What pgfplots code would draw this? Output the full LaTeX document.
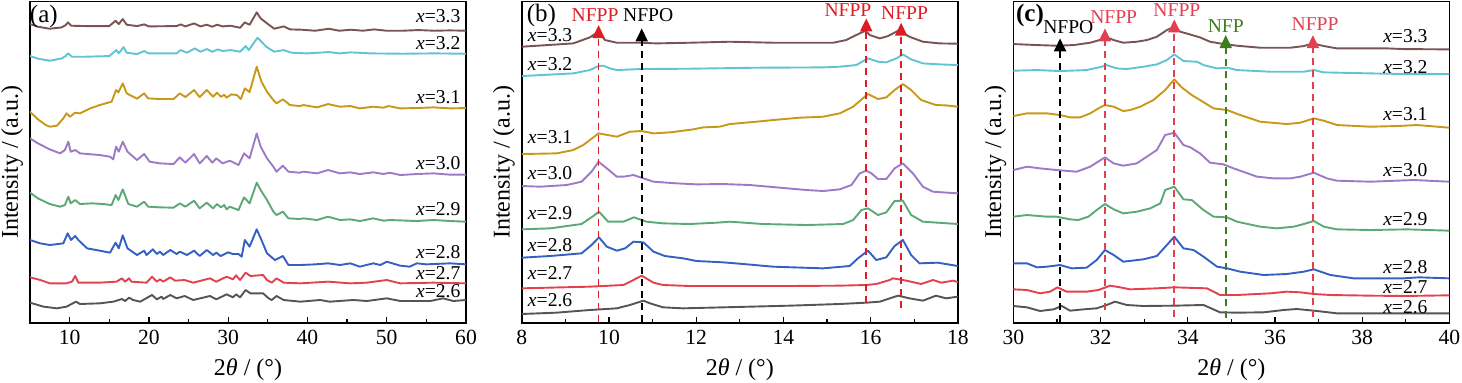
\documentclass[border=0pt]{standalone}
\usepackage{pgfplots}
\pgfplotsset{compat=1.18}
\usepackage{fontspec}
\setmainfont{Liberation Serif}
\usetikzlibrary{arrows.meta}
\definecolor{c26}{RGB}{85,85,85}
\definecolor{c27}{RGB}{228,64,78}
\definecolor{c28}{RGB}{52,96,196}
\definecolor{c29}{RGB}{92,168,118}
\definecolor{c30}{RGB}{156,122,200}
\definecolor{c31}{RGB}{200,152,24}
\definecolor{c32}{RGB}{96,196,210}
\definecolor{c33}{RGB}{122,84,84}
\definecolor{nfppb}{RGB}{222,28,36}
\definecolor{nfppc}{RGB}{226,64,80}
\definecolor{nfp}{RGB}{60,125,30}
\pgfplotsset{
  xrd/.style={
    scale only axis, width=218pt, height=160.8pt,
    anchor=south west,
    y dir=reverse, ymin=4, ymax=969,
    ytick=\empty,
    xtick pos=left,
    tick align=inside,
    minor x tick num=1,
    major tick length=3pt, minor tick length=1.8pt,
    axis line style={line width=0.8pt},
    every tick/.style={black, line width=0.6pt},
    tick label style={font=\fontsize{10.8}{12}\selectfont},
    label style={font=\fontsize{12}{14}\selectfont},
    xlabel={2\textit{θ} / (°)},
    ylabel={Intensity / (a.u.)},
    ylabel style={at={(axis description cs:0,0.5)}, anchor=south, rotate=0},
    /pgf/number format/assume math mode=true,
    every axis plot/.append style={line width=0.95pt, no marks, line join=round},
  },
}
\tikzset{
  cl/.style={font=\fontsize{9.8}{11}\selectfont, inner sep=0.5pt},
  an/.style={font=\fontsize{9.8}{11}\selectfont, inner sep=0pt},
  pl/.style={font=\fontsize{12.5}{14}\selectfont, inner sep=0pt},
  ar/.style={line width=0.95pt, dash pattern=on 3.5pt off 2.5pt, -{Triangle[length=6.5pt,width=6pt]}},
}
\begin{document}
\begin{tikzpicture}
%================ (a)
\begin{axis}[xrd, at={(15pt,30pt)}, xmin=5, xmax=60, xtick={10,20,...,60}]
\addplot[c33] coordinates {(5,72)(6,80)(7.5,86)(9.0,82)(9.5,75)(9.8,67)(10.2,77)(12,78)(15.0,78)(15.8,62)(16.2,72)(16.7,57)(17.2,74)(18.5,78)(19.4,73)(20.0,79)(23.5,78)(24.0,73)(24.6,79)(25.7,70)(26.5,79)(27.3,74)(28.0,80)(28.6,74)(29.3,79)(30.3,77)(31.5,83)(32.1,67)(32.7,74)(33.6,37)(34.1,55)(34.8,68)(35.8,86)(37.0,79)(37.8,88)(39.3,89)(41,92)(42.7,86)(44,92)(45.5,89)(47,92)(48.4,88)(50,92)(52,92)(54,90)(56,92)(58,91)(60,92)};
\addplot[c32] coordinates {(5,168)(6,176)(7.5,182)(9.0,175)(9.5,168)(9.8,160)(10.3,170)(12,170)(15.0,168)(15.9,150)(16.2,160)(16.8,141)(17.2,158)(18.5,162)(19.4,153)(20,160)(23.5,160)(24,150)(24.8,158)(25.8,145)(26.5,155)(27.3,147)(28,155)(28.7,148)(29.3,153)(30.3,150)(31.5,155)(32.2,138)(32.6,150)(33.7,113)(34.2,125)(34.8,140)(35.8,155)(37,150)(38,158)(40,160)(42.7,156)(44,160)(45.5,157)(48,160)(52,161)(56,160)(60,161)};
\addplot[c31] coordinates {(5,335)(6,358)(7.0,375)(7.5,380)(8.4,377)(9.2,355)(9.6,340)(10.05,350)(10.7,338)(11.3,340)(12.6,325)(13.8,315)(15.3,305)(15.85,270)(16.15,277)(16.7,250)(17.2,280)(18.5,296)(19.4,280)(19.9,295)(21.4,297)(23.1,297)(23.9,280)(24.6,291)(25.7,270)(26.4,291)(27.3,270)(28.1,290)(28.6,278)(29.1,290)(29.5,284)(29.8,293)(30.4,283)(31.1,285)(31.6,297)(32.1,265)(32.7,276)(33.6,200)(34.2,245)(34.9,275)(35.7,300)(36.1,310)(36.9,298)(37.8,315)(39.0,318)(39.5,315)(41.2,322)(42.6,312)(44.1,320)(45.4,318)(46.6,325)(48.3,320)(49.6,323)(50.2,318)(51.7,325)(53.8,324)(55.9,322)(58,325)(60,324)};
\addplot[c30] coordinates {(5,415)(6,430)(7.5,448)(8.8,460)(9.4,450)(9.84,425)(10.13,455)(10.7,450)(11.3,460)(13.8,465)(15.1,470)(15.5,478)(15.85,440)(16.2,455)(16.7,425)(17.3,455)(18.5,480)(19.4,462)(20.1,485)(21.4,490)(23.1,492)(23.9,472)(24.6,488)(25.7,462)(26.4,490)(27.3,468)(28.0,488)(28.5,475)(29.3,490)(30.2,482)(31.3,495)(32.0,460)(32.7,475)(33.6,400)(34.1,440)(34.9,475)(35.7,500)(36.1,515)(36.9,497)(37.6,515)(39.0,518)(39.5,515)(41.2,520)(42.6,510)(44.1,520)(45.4,517)(46.6,522)(48.3,517)(49.6,522)(50.4,518)(51.7,525)(53.8,522)(55.9,520)(58,524)(60,524)};
\addplot[c29] coordinates {(5,578)(6,595)(7.5,612)(8.8,620)(9.4,615)(9.84,590)(10.13,610)(10.7,600)(11.3,612)(12.8,610)(14.2,612)(15.3,615)(15.8,585)(16.15,600)(16.7,568)(17.4,612)(18.5,620)(19.4,605)(19.9,620)(21.4,622)(23.1,623)(23.9,610)(24.6,620)(25.7,602)(26.4,625)(27.3,608)(28.1,625)(28.6,612)(29.1,622)(29.5,615)(29.8,628)(30.2,620)(31.3,630)(32.0,592)(32.7,610)(33.6,548)(34.1,570)(34.9,600)(35.7,635)(36.1,645)(36.9,635)(37.6,655)(39.0,657)(39.5,655)(41.2,660)(42.6,650)(44.1,660)(45.4,658)(46.6,663)(48.3,655)(49.6,662)(50.4,660)(53.8,663)(55.9,660)(58,663)(60,665)};
\addplot[c28] coordinates {(5,720)(6.3,730)(7.5,735)(9.2,730)(9.75,700)(10.17,720)(10.7,708)(11.1,720)(12.2,745)(13.8,752)(15.1,758)(15.8,728)(16.2,745)(16.7,706)(17.3,745)(18.5,765)(19.4,752)(19.7,765)(20.5,748)(21.0,762)(21.4,755)(21.8,765)(22.7,750)(23.5,762)(23.9,755)(24.8,765)(25.7,752)(26.4,768)(27.3,750)(28.1,765)(28.5,758)(29.05,768)(30.0,757)(30.6,762)(31.3,762)(31.7,770)(32.1,720)(32.7,740)(33.6,688)(34.2,720)(34.9,760)(35.9,780)(36.9,768)(37.6,795)(39.1,795)(41,793)(42.6,790)(44.1,795)(45.4,790)(46.6,800)(48.3,790)(49.2,795)(50.0,785)(51.7,797)(52.9,800)(53.8,790)(55.0,793)(58,790)(60,793)};
\addplot[c27] coordinates {(5,832)(6.3,840)(7.5,850)(9.6,850)(10.3,845)(10.7,828)(11.1,848)(13.8,848)(15.9,845)(16.6,835)(17.0,845)(17.5,835)(17.8,845)(19.7,848)(20.4,830)(21.0,845)(21.4,838)(21.8,845)(22.7,832)(23.3,842)(24.5,840)(25.6,848)(27.7,835)(28.5,845)(29.8,830)(30.6,838)(31.0,826)(31.5,840)(32.2,818)(32.8,828)(34.4,825)(34.9,840)(35.5,848)(36.1,835)(37.0,848)(39.1,850)(42.6,845)(45.4,850)(47.5,848)(50,840)(51.7,850)(55.9,848)(60,850)};
\addplot[c26] coordinates {(5,908)(6.7,920)(8.4,925)(9.6,920)(10.8,905)(11.3,912)(13.8,910)(15.5,905)(16.6,897)(17.0,903)(17.5,893)(18.0,900)(18.9,905)(20.4,885)(21.0,898)(21.6,890)(21.8,897)(22.7,885)(23.5,895)(24.5,888)(25.6,900)(27.7,888)(28.5,898)(29.8,883)(30.6,892)(31.0,883)(31.5,892)(32.2,870)(32.8,880)(34.4,880)(35.1,895)(35.5,900)(36.1,888)(37.0,900)(39.1,905)(41.6,900)(42.8,905)(45.8,900)(47.5,903)(50,895)(51.7,903)(55.5,903)(57.1,895)(58.4,903)(60,900)};
\node[pl] at (axis cs:6.75,50) {(a)};
\node[cl, anchor=east] at (axis cs:59.46,48) {\textit{x}=3.3};
\node[cl, anchor=east] at (axis cs:59.46,128) {\textit{x}=3.2};
\node[cl, anchor=east] at (axis cs:59.46,290) {\textit{x}=3.1};
\node[cl, anchor=east] at (axis cs:59.46,488) {\textit{x}=3.0};
\node[cl, anchor=east] at (axis cs:59.46,628) {\textit{x}=2.9};
\node[cl, anchor=east] at (axis cs:59.46,755) {\textit{x}=2.8};
\node[cl, anchor=east] at (axis cs:59.46,820) {\textit{x}=2.7};
\node[cl, anchor=east] at (axis cs:59.46,873) {\textit{x}=2.6};
\end{axis}
%================ (b)
\begin{axis}[xrd, at={(260.9pt,30pt)}, xmin=8, xmax=18, xtick={8,10,...,18}]
\addplot[c33] coordinates {(8,140)(9.18,130)(9.56,112)(9.76,95)(9.91,120)(10.18,128)(10.71,128)(11.09,130)(11.85,128)(12.77,125)(13.76,128)(15.14,128)(15.44,120)(15.67,105)(15.88,92)(15.98,105)(16.21,115)(16.40,108)(16.63,92)(16.70,95)(16.89,110)(17.2,125)(17.58,130)(18,131)};
\addplot[c32] coordinates {(8,228)(9.18,220)(9.56,210)(9.76,198)(9.87,197)(10.02,205)(10.18,210)(10.71,207)(11.85,206)(13.38,203)(14.91,202)(15.29,200)(15.67,195)(15.94,175)(16.17,185)(16.36,187)(16.59,175)(16.74,163)(16.93,178)(17.2,190)(17.58,193)(18,195)};
\addplot[c31] coordinates {(8,462)(8.8,460)(9.18,450)(9.41,435)(9.76,400)(10.18,410)(10.48,395)(10.75,393)(11.02,400)(11.4,397)(11.7,392)(11.93,388)(12.16,382)(12.54,380)(12.77,372)(13.38,365)(13.76,360)(14.37,353)(14.91,350)(15.29,340)(15.6,320)(15.82,295)(15.94,282)(16.17,297)(16.36,292)(16.55,270)(16.74,252)(16.93,270)(17.16,300)(17.5,315)(17.73,316)(18,320)};
\addplot[c30] coordinates {(8,558)(8.42,560)(9.03,555)(9.37,545)(9.6,515)(9.76,485)(9.95,505)(10.18,530)(10.33,530)(10.56,525)(10.79,535)(11.02,545)(11.55,550)(12.01,553)(12.62,552)(13.23,555)(13.92,563)(14.53,570)(14.91,573)(15.29,568)(15.56,555)(15.75,520)(15.9,512)(16.02,520)(16.17,537)(16.36,537)(16.55,505)(16.74,490)(16.97,520)(17.2,560)(17.43,575)(18,580)};
\addplot[c29] coordinates {(8,688)(8.65,685)(9.37,672)(9.64,648)(9.77,635)(9.91,655)(9.98,665)(10.33,665)(10.57,652)(10.86,665)(11.24,670)(11.85,672)(12.47,668)(12.77,665)(13.53,672)(14.53,675)(15.37,672)(15.6,660)(15.79,630)(15.94,625)(16.17,645)(16.36,637)(16.55,603)(16.74,602)(16.93,645)(17.2,665)(18,672)};
\addplot[c28] coordinates {(8,773)(8.65,768)(9.37,760)(9.6,735)(9.77,712)(9.95,740)(10.18,752)(10.37,745)(10.56,725)(10.79,727)(11.02,755)(11.28,768)(11.7,775)(12.01,783)(12.62,787)(13.08,792)(13.76,800)(14.91,805)(15.52,798)(15.71,775)(15.94,752)(16.13,780)(16.36,772)(16.55,738)(16.74,720)(16.93,765)(17.12,790)(17.54,788)(18,798)};
\addplot[c27] coordinates {(8,865)(9.56,860)(10.33,855)(10.56,840)(10.75,827)(11.02,848)(11.24,855)(11.85,858)(14.15,858)(15.29,857)(15.9,855)(16.13,852)(16.44,840)(16.51,835)(16.74,840)(16.82,842)(17.16,852)(17.43,840)(17.62,848)(17.89,842)(18,846)};
\addplot[c26] coordinates {(8,942)(8.8,938)(9.56,930)(10.18,925)(10.48,915)(10.79,902)(10.94,910)(11.24,922)(11.7,925)(12.62,922)(14.15,917)(15.29,912)(15.9,908)(16.21,905)(16.44,895)(16.63,887)(16.89,895)(17.2,902)(17.5,887)(17.73,895)(18,890)};
\draw[ar, nfppb] (axis cs:9.76,965) -- (axis cs:9.76,75);
\draw[ar, black] (axis cs:10.75,965) -- (axis cs:10.75,85);
\draw[ar, nfppb] (axis cs:15.9,910) -- (axis cs:15.9,55);
\draw[ar, nfppb] (axis cs:16.7,925) -- (axis cs:16.7,68);
\node[an, text=nfppb] at (axis cs:9.68,45) {NFPP};
\node[an] at (axis cs:10.9,45) {NFPO};
\node[an, text=nfppb] at (axis cs:15.48,30) {NFPP};
\node[an, text=nfppb] at (axis cs:16.78,38) {NFPP};
\node[pl] at (axis cs:8.45,45) {(b)};
\node[cl, anchor=west] at (axis cs:8.11,105) {\textit{x}=3.3};
\node[cl, anchor=west] at (axis cs:8.11,192) {\textit{x}=3.2};
\node[cl, anchor=west] at (axis cs:8.11,412) {\textit{x}=3.1};
\node[cl, anchor=west] at (axis cs:8.11,520) {\textit{x}=3.0};
\node[cl, anchor=west] at (axis cs:8.11,640) {\textit{x}=2.9};
\node[cl, anchor=west] at (axis cs:8.11,735) {\textit{x}=2.8};
\node[cl, anchor=west] at (axis cs:8.11,820) {\textit{x}=2.7};
\node[cl, anchor=west] at (axis cs:8.11,900) {\textit{x}=2.6};
\end{axis}
%================ (c)
\begin{axis}[xrd, at={(506.7pt,30pt)}, xmin=30, xmax=40, xtick={30,32,...,40}]
\addplot[c33] coordinates {(30,132)(30.54,135)(31.0,137)(31.38,135)(31.76,128)(32.03,118)(32.10,110)(32.30,120)(32.52,128)(32.83,125)(33.06,120)(33.29,110)(33.52,90)(33.69,80)(33.83,95)(34.02,102)(34.28,112)(34.51,125)(34.82,132)(35.13,137)(35.66,143)(36.35,143)(36.66,138)(36.87,130)(37.12,138)(37.42,145)(38.57,145)(38.95,147)(40,148)};
\addplot[c32] coordinates {(30,212)(30.54,210)(31.07,213)(31.68,210)(32.03,200)(32.13,195)(32.37,205)(32.60,207)(32.98,200)(33.29,193)(33.52,180)(33.69,163)(33.90,183)(34.21,185)(34.36,195)(34.67,205)(34.90,203)(35.13,210)(35.89,215)(36.66,215)(36.89,210)(37.12,217)(38.19,220)(38.95,222)(40,222)};
\addplot[c31] coordinates {(30,348)(30.31,340)(30.77,340)(31.07,345)(31.30,352)(31.53,352)(31.76,340)(31.99,322)(32.10,315)(32.30,320)(32.52,333)(32.68,330)(32.91,320)(33.21,300)(33.48,270)(33.69,238)(33.86,262)(34.09,285)(34.28,300)(34.59,325)(34.90,330)(35.20,345)(35.66,365)(36.27,372)(36.58,368)(36.89,355)(37.12,362)(37.42,375)(38.19,380)(38.80,378)(39.26,375)(40,383)};
\addplot[c30] coordinates {(30,510)(30.31,500)(30.61,505)(30.99,510)(31.45,515)(31.76,500)(32.10,472)(32.30,490)(32.52,497)(32.83,490)(33.06,470)(33.29,450)(33.48,405)(33.69,398)(33.90,435)(34.06,442)(34.28,460)(34.51,488)(34.82,493)(35.05,505)(35.59,530)(35.97,535)(36.35,535)(36.58,530)(36.89,518)(37.19,535)(37.42,542)(38.19,545)(39.18,540)(40,545)};
\addplot[c29] coordinates {(30,650)(30.31,645)(30.77,650)(30.99,650)(31.30,658)(31.49,660)(31.72,650)(31.91,630)(32.10,612)(32.30,628)(32.52,640)(32.83,635)(33.14,625)(33.37,610)(33.48,570)(33.69,560)(33.90,598)(34.09,600)(34.36,630)(34.59,650)(34.90,652)(35.13,665)(35.66,680)(36.04,685)(36.43,680)(36.66,672)(36.89,663)(37.12,680)(37.42,688)(38.19,690)(39.03,688)(40,692)};
\addplot[c28] coordinates {(30,790)(30.31,790)(30.54,802)(30.77,800)(31.07,795)(31.34,805)(31.68,803)(31.91,780)(32.10,750)(32.30,765)(32.52,785)(32.98,778)(33.29,768)(33.52,735)(33.69,710)(33.90,745)(34.13,750)(34.36,770)(34.67,800)(34.90,805)(35.20,815)(35.74,825)(36.27,822)(36.66,815)(36.89,808)(37.27,825)(37.80,835)(38.95,835)(39.30,832)(40,835)};
\addplot[c27] coordinates {(30,868)(30.31,870)(30.61,880)(30.84,875)(31.01,862)(31.22,875)(31.68,875)(31.95,870)(32.22,857)(32.45,862)(32.68,868)(33.29,865)(33.69,862)(34.44,865)(34.74,885)(35.13,885)(35.89,880)(36.27,875)(36.58,877)(36.89,882)(37.27,885)(38.19,887)(38.95,888)(40,886)};
\addplot[c26] coordinates {(30,918)(30.31,922)(30.61,933)(30.92,928)(31.11,918)(31.30,932)(31.61,928)(31.91,925)(32.14,915)(32.33,905)(32.60,915)(32.98,918)(33.69,917)(34.36,915)(34.74,937)(35.13,938)(35.74,937)(36.20,930)(36.50,927)(36.96,933)(37.42,940)(38.95,940)(40,940)};
\draw[ar, black] (axis cs:31.07,965) -- (axis cs:31.07,115);
\draw[ar, nfppc] (axis cs:32.10,930) -- (axis cs:32.10,85);
\draw[ar, nfppc] (axis cs:33.69,950) -- (axis cs:33.69,58);
\draw[ar, nfp] (axis cs:34.87,955) -- (axis cs:34.87,105);
\draw[ar, nfppc] (axis cs:36.87,950) -- (axis cs:36.87,105);
\node[an] at (axis cs:31.26,80) {NFPO};
\node[an, text=nfppc] at (axis cs:32.30,50) {NFPP};
\node[an, text=nfppc] at (axis cs:33.75,30) {NFPP};
\node[an, text=nfp] at (axis cs:34.87,78) {NFP};
\node[an, text=nfppc] at (axis cs:36.92,72) {NFPP};
\node[pl, font=\fontsize{12.5}{14}\selectfont\bfseries] at (axis cs:30.38,45) {(c)};
\node[cl, anchor=east] at (axis cs:39.53,108) {\textit{x}=3.3};
\node[cl, anchor=east] at (axis cs:39.53,200) {\textit{x}=3.2};
\node[cl, anchor=east] at (axis cs:39.53,343) {\textit{x}=3.1};
\node[cl, anchor=east] at (axis cs:39.53,510) {\textit{x}=3.0};
\node[cl, anchor=east] at (axis cs:39.53,657) {\textit{x}=2.9};
\node[cl, anchor=east] at (axis cs:39.53,800) {\textit{x}=2.8};
\node[cl, anchor=east] at (axis cs:39.53,860) {\textit{x}=2.7};
\node[cl, anchor=east] at (axis cs:39.53,920) {\textit{x}=2.6};
\end{axis}
\pgfresetboundingbox
\path[use as bounding box] (0,0) rectangle (731pt,191.5pt);
\end{tikzpicture}
\end{document}
